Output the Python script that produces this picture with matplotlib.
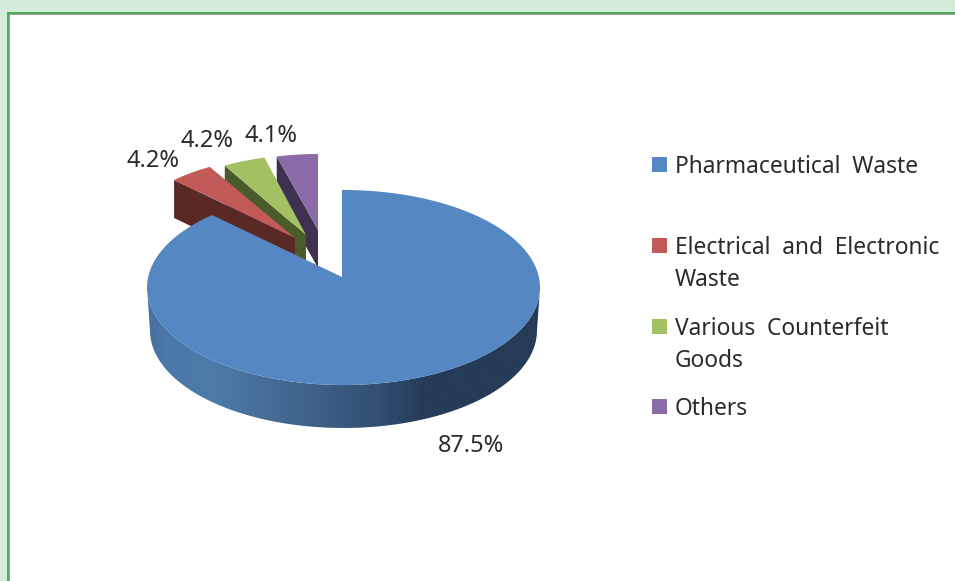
import matplotlib
matplotlib.use("Agg")
import matplotlib.pyplot as plt
import matplotlib.patches as mpatches
from matplotlib.path import Path as MplPath
import numpy as np

plt.rcParams["font.family"] = ["Noto Sans", "DejaVu Sans"]

categories = ["Pharmaceutical  Waste", "Electrical  and  Electronic\nWaste",
              "Various  Counterfeit\nGoods", "Others"]
shares = [87.5, 4.2, 4.2, 4.1]
pct_labels = ["87.5%", "4.2%", "4.2%", "4.1%"]
top_colors = ["#5587c2", "#c25b58", "#a3c163", "#8a6ba8"]
wall_colors = ["#3c5f8a", "#5a2825", "#4b5c2b", "#3e3150"]

# where things sit on the canvas, in pixels
PIE_C = (343.5, 287.5)
PIE_R = (196.5, 97.5)
PIE_APEX = (342, 277)
PIE_DEPTH = 43
PIE_NARROW = 3  # bottom rim is a little narrower, the view has perspective
SLICE_R = {1: (171, 82), 2: (163, 80), 3: (162, 76)}
SLICE_DEPTH = 38
SLICE_APEX = {1: (295, 238), 2: (306, 235), 3: (318, 230)}
TIP_SKEW = 3.0  # projected angle of the big slice runs a bit past its share
TOP_START = -0.45

pct_pos = [(470.5, 446), (153, 161), (207, 141), (271, 136)]
legend_y = [157, 238, 319, 399]


def arc(a0, a1, c, r, n=80):
    a = np.radians(np.linspace(a0, a1, n))
    return np.column_stack([c[0] + r[0] * np.sin(a), c[1] - r[1] * np.cos(a)])


fig = plt.figure(figsize=(9.55, 5.81), dpi=100, facecolor="#d5ebda")
ax = fig.add_axes([0, 0, 1, 1])
ax.set_xlim(0, 955)
ax.set_ylim(581, 0)
ax.axis("off")

# page frame: solid bands so no light seam shows between green and grey
ax.add_patch(mpatches.Rectangle((7, 12), 950, 570, facecolor="#4cae5c", edgecolor="none"))
ax.add_patch(mpatches.Rectangle((9, 14), 950, 570, facecolor="#a0a0a0", edgecolor="none"))
ax.add_patch(mpatches.Rectangle((10, 15), 950, 570, facecolor="white", edgecolor="none"))

# small exploded slices, back to front
edges = np.cumsum(shares) * 3.6
for i in (3, 2, 1):
    apex = SLICE_APEX[i]
    outer = arc(edges[i - 1], edges[i], apex, SLICE_R[i], n=20)
    left = outer[0]
    ax.add_patch(mpatches.Polygon(
        [apex, left, (left[0], left[1] + SLICE_DEPTH), (apex[0], apex[1] + SLICE_DEPTH)],
        facecolor=wall_colors[i], edgecolor="none"))
    ax.add_patch(mpatches.Polygon(np.vstack([[apex], outer]),
                                  facecolor=top_colors[i], edgecolor="none"))

# big slice: outer wall with a left-to-right shade, then the top
lower = arc(90, 270, PIE_C, PIE_R)
rim = arc(90, 270, (PIE_C[0], PIE_C[1] + PIE_DEPTH), (PIE_R[0] - PIE_NARROW, PIE_R[1]))
wall = np.vstack([lower, rim[::-1]])
wall_path = mpatches.PathPatch(MplPath(np.vstack([wall, wall[0]])),
                               facecolor="none", edgecolor="none")
ax.add_patch(wall_path)
shade_x = [147, 165, 215, 300, 380, 425, 540]
shade_rgb = np.array([[0x45, 0x70, 0x9e], [0x4a, 0x78, 0xa8], [0x4d, 0x7a, 0xa8],
                      [0x40, 0x65, 0x8c], [0x30, 0x4e, 0x70], [0x25, 0x3b, 0x57],
                      [0x25, 0x3b, 0x57]]) / 255
xs = np.arange(147, 541)
grad = np.stack([np.interp(xs, shade_x, shade_rgb[:, k]) for k in range(3)], axis=-1)[None, :, :]
im = ax.imshow(grad, extent=(147, 541, 440, 280), aspect="auto", interpolation="bilinear",
               zorder=1)
im.set_clip_path(wall_path)
ax.set_xlim(0, 955)
ax.set_ylim(581, 0)

top = arc(TOP_START, shares[0] * 3.6 + TIP_SKEW, PIE_C, PIE_R, n=240)
ax.add_patch(mpatches.Polygon(np.vstack([[PIE_APEX], top]),
                              facecolor=top_colors[0], edgecolor="none", zorder=1.5))
ax.plot([PIE_APEX[0], PIE_APEX[0]], [PIE_APEX[1], PIE_APEX[1] - 28], color=wall_colors[0],
        linewidth=0.6, zorder=1.4)

for lab, (x, y) in zip(pct_labels, pct_pos):
    ax.text(x, y, lab, ha="center", va="center", fontsize=17, color="#2b2b2b", zorder=3)

# legend
for cat, col, y in zip(categories, top_colors, legend_y):
    ax.add_patch(mpatches.Rectangle((652, y), 15, 15, facecolor=col, edgecolor="none", zorder=2))
    ax.text(675, y - 2, cat, ha="left", va="top", fontsize=16.4, color="#2b2b2b",
            linespacing=1.46, zorder=3)

fig.savefig("out.png", dpi=100, facecolor=fig.get_facecolor())
plt.close(fig)
